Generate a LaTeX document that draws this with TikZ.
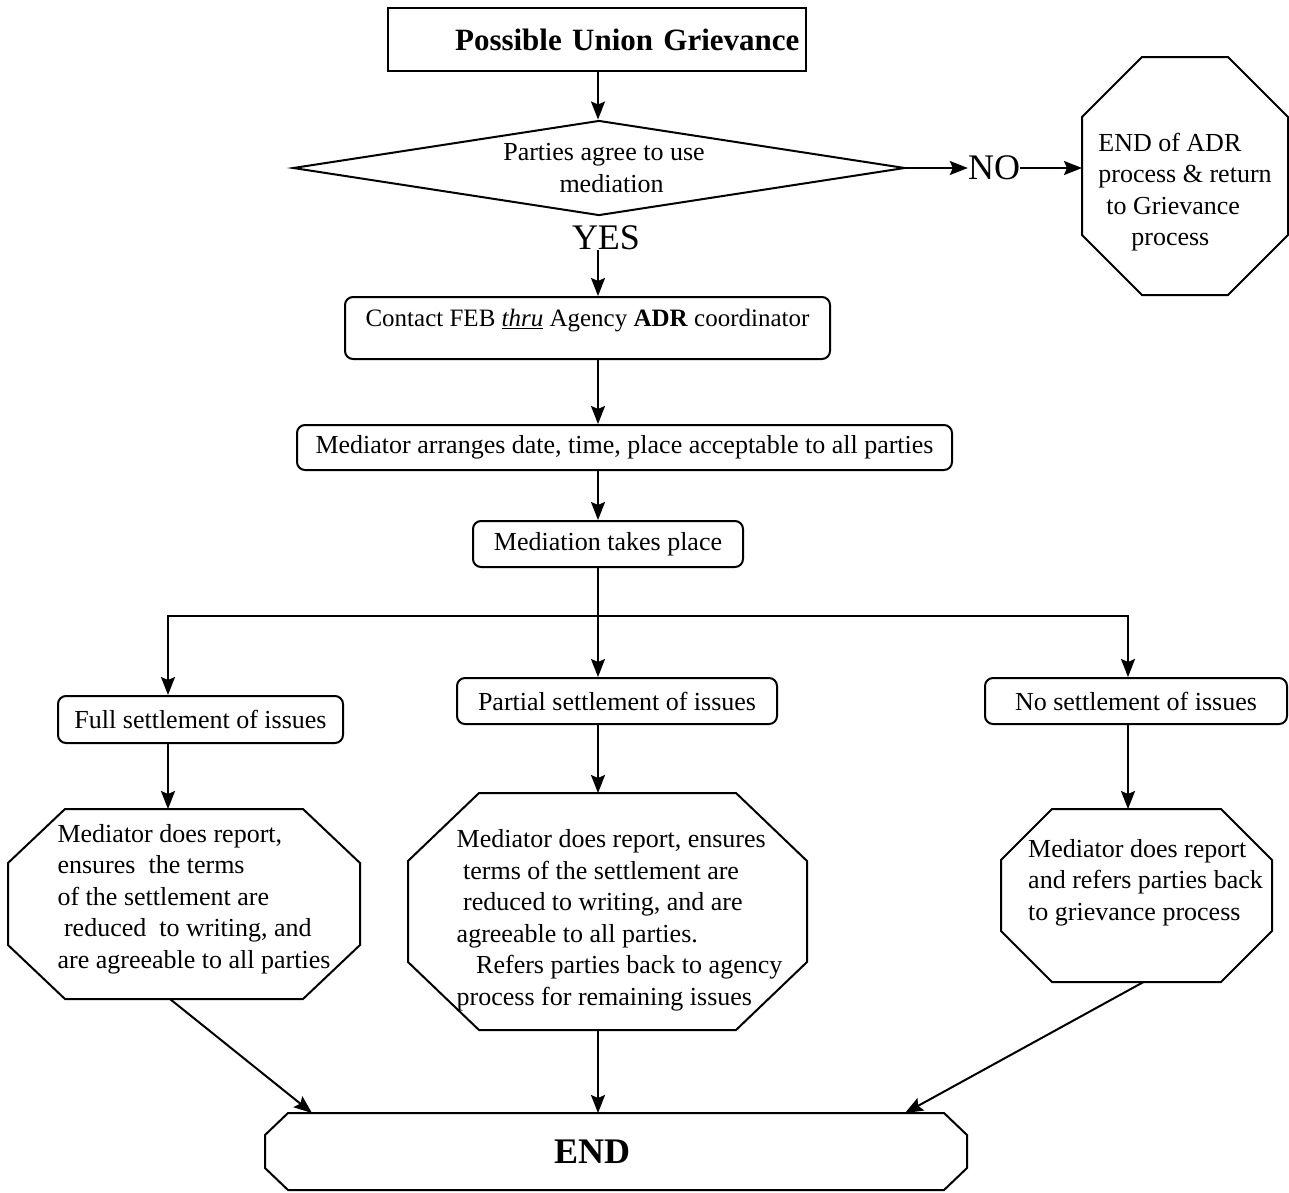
\documentclass[tikz,border=0pt]{standalone}
\usepackage{fontspec}
\setmainfont{Liberation Serif}
\usepackage{tikz}
\usetikzlibrary{arrows.meta,shapes.geometric}
\tikzset{lbl/.style={font=\fontsize{26}{31.5}\selectfont},
	 sbox/.style={draw,lbl,line width=2pt,inner sep=2pt},
	 rbox/.style={sbox,rounded corners=8pt},
	 oct/.style={rectangle,inner sep=0pt,outer sep=0pt},
	 otxt/.style={lbl,align=left,inner sep=0pt},
	 arr/.style={line width=2pt,-{Stealth[length=18pt,width=14pt,inset=3pt]}},
	 ln/.style={line width=2pt},
	 big/.style={font=\fontsize{36}{40}\selectfont,inner sep=0pt}
	 }
% octagon round a rectangle node: name, x cut, y cut
\newcommand{\drawoct}[3]{\draw[ln] ([xshift=#2]#1.north west) -- ([xshift=-#2]#1.north east) -- ([yshift=-#3]#1.north east) -- ([yshift=#3]#1.south east) -- ([xshift=-#2]#1.south east) -- ([xshift=#2]#1.south west) -- ([yshift=#3]#1.south west) -- ([yshift=-#3]#1.north west) -- cycle;}

\begin{document}
\begin{tikzpicture}[x=1pt,y=-1pt] % ADR mediation flow
	\useasboundingbox (0,0) rectangle (1289,1192);
        \node[sbox,minimum width=418,minimum height=63,text width=405,align=right,font=\fontsize{31}{36}\selectfont\bfseries] (top) at (597,39.5) {Possible Union Grievance};
        \node[sbox,diamond,aspect=6.44,inner sep=0pt,minimum width=612,minimum height=95,align=center] (dec) at (599,168) {\hspace*{10pt}Parties agree to use\\\hspace*{25pt}mediation};
        \node[big] (yes) at (606,238) {YES};
        \node[big] (no) at (994,168) {NO};
        \node[oct,minimum width=206,minimum height=238,label={[otxt,name=adrtxt,yshift=-16pt]center:{END of ADR\\process \& return\\\hspace*{8pt}to Grievance\\\hspace*{33pt}process}}] (adr) at (1185,176) {};
        \node[rbox,minimum width=485,minimum height=62,text depth=20pt,font=\fontsize{25}{30}\selectfont] (contact) at (587.5,328) {Contact FEB \underline{\textit{thru}} Agency \textbf{ADR} coordinator};
        \node[rbox,minimum width=655,minimum height=45] (arrange) at (624.5,447.5) {Mediator arranges date, time, place acceptable to all parties};
        \node[rbox,minimum width=270,minimum height=46] (place) at (608,544) {Mediation takes place};
        \coordinate (split) at (598,616);
        \coordinate (lc) at (168,616);
        \coordinate (rc) at (1128,616);
        \node[rbox,minimum width=285,minimum height=47] (full) at (200.5,719.5) {Full settlement of issues};
        \node[rbox,minimum width=320,minimum height=46] (part) at (617,701) {Partial settlement of issues};
        \node[rbox,minimum width=302,minimum height=46] (none) at (1136,701) {No settlement of issues};
        \node[oct,minimum width=352,minimum height=190,label={[otxt,name=o1txt,xshift=10pt,yshift=5pt]center:{Mediator does report,\\ensures\ \ the terms\\of the settlement are\\\ reduced\ \ to writing, and\\are agreeable to all parties}}] (o1) at (184,904) {};
        \node[oct,minimum width=399,minimum height=237,label={[otxt,name=o2txt,xshift=12pt,yshift=-9pt]center:{Mediator does report, ensures\\\ terms of the settlement are\\\ reduced to writing, and are\\agreeable to all parties.\\\ \ \ Refers parties back to agency\\process for remaining issues}}] (o2) at (607.5,911.5) {};
        \node[oct,minimum width=271,minimum height=173,label={[otxt,name=o3txt,xshift=9pt,yshift=13pt]center:{Mediator does report\\and refers parties back\\to grievance process}}] (o3) at (1136.5,895.5) {};
        \node[oct,minimum width=702,minimum height=77,font=\fontsize{36}{40}\selectfont\bfseries] (end) at (616,1151.5) {END\hspace*{48pt}};
	\drawoct{adr}{60pt}{60pt}
	\drawoct{o1}{57pt}{54pt}
	\drawoct{o2}{71pt}{68pt}
	\drawoct{o3}{51pt}{51pt}
	\drawoct{end}{23pt}{22pt}
	\draw[arr] (top.south -| split) -- (dec.north -| split);
	\draw[arr] (dec.east) -- (no.west);
	\draw[arr] (no.east) -- (no.east -| adr.west);
	\draw[arr] (yes.south -| split) -- (contact.north -| split);
	\draw[arr] (contact.south -| split) -- (arrange.north -| split);
	\draw[arr] (arrange.south -| split) -- (place.north -| split);
	\draw[ln] (place.south -| split) -- (split);
	\draw[arr] (split) -- (part.north -| split);
	\draw[arr] (split) -- (lc) -- (lc |- full.north);
	\draw[arr] (split) -- (rc) -- (rc |- none.north);
	\draw[arr] (full.south -| lc) -- (o1.north -| lc);
	\draw[arr] (part.south -| split) -- (o2.north -| split);
	\draw[arr] (none.south -| rc) -- (o3.north -| rc);
	\draw[arr] ([xshift=-14pt]o1.south) -- ([xshift=-304pt]end.north);
	\draw[arr] (o2.south -| split) -- (end.north -| split);
	\draw[arr] ([xshift=7pt]o3.south) -- ([xshift=289pt]end.north);
\end{tikzpicture}
\end{document}
